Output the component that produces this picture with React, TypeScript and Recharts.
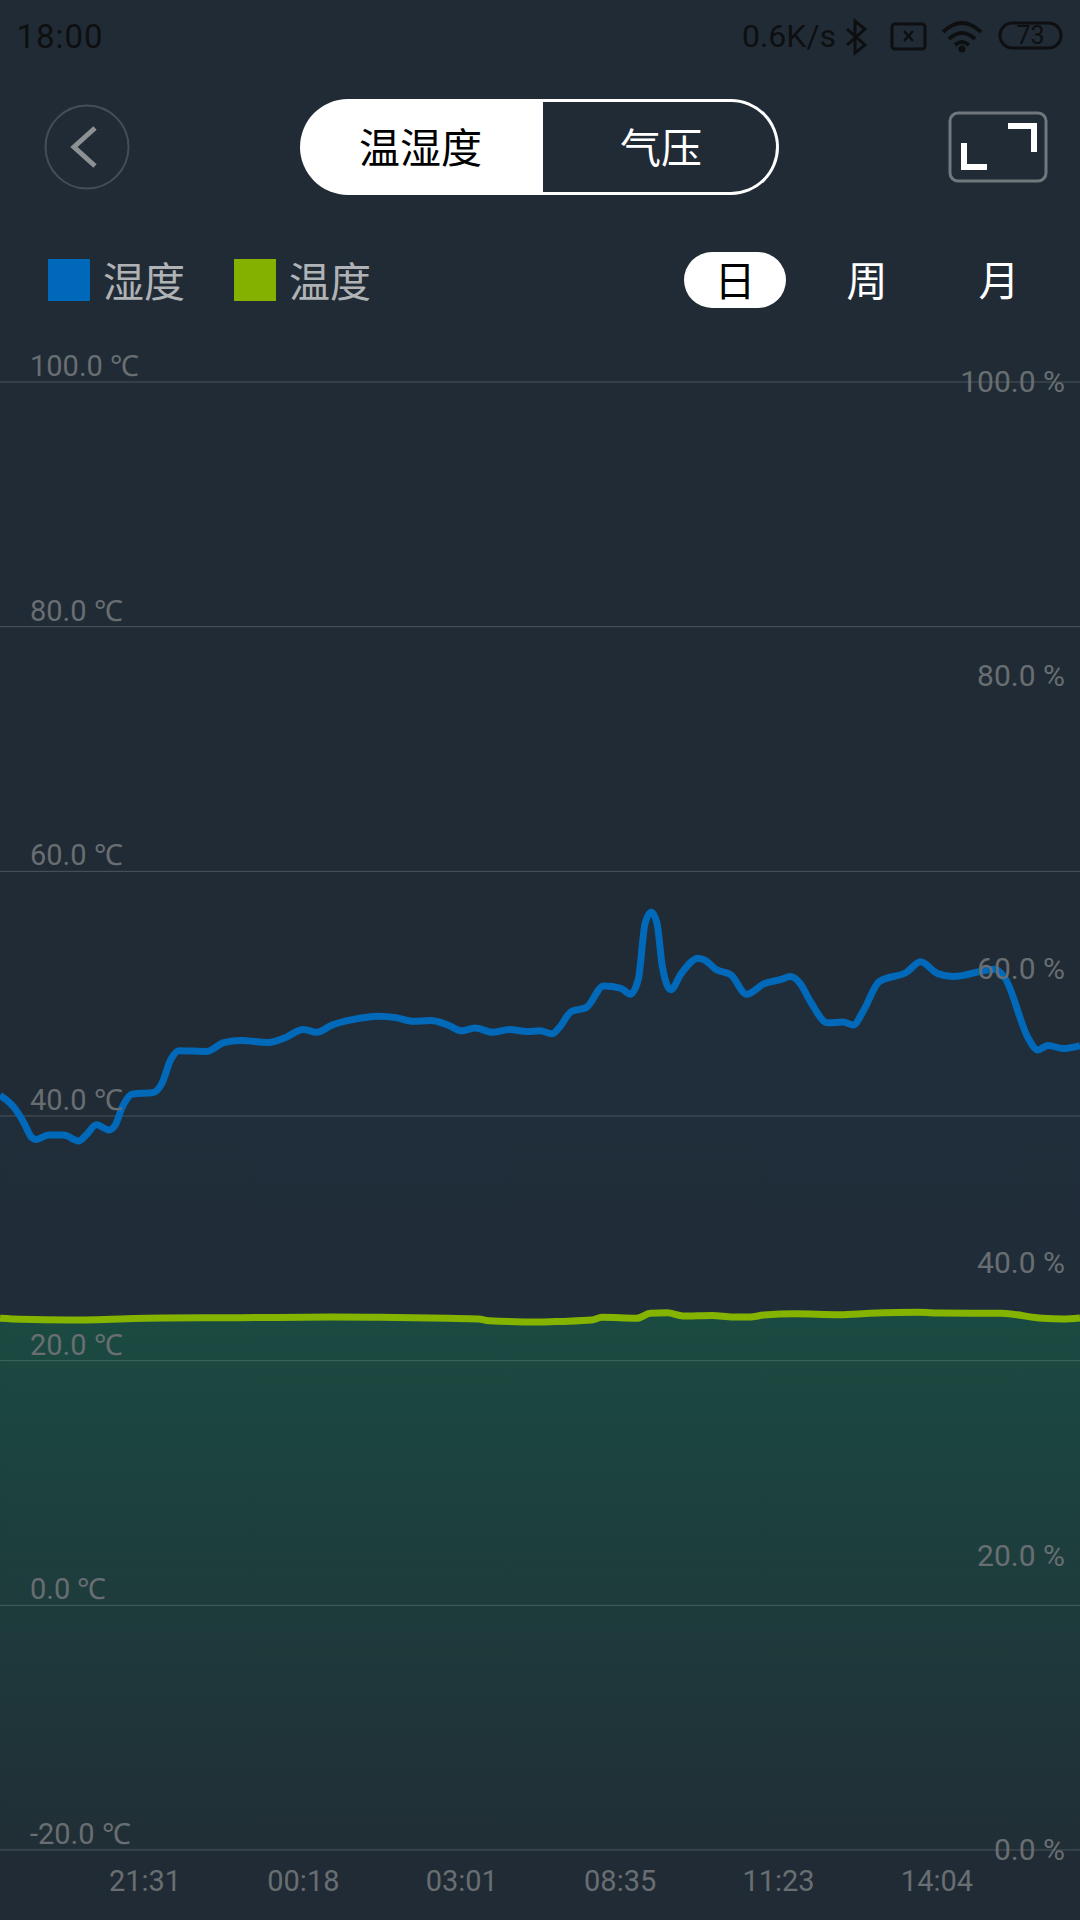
import React from "react";
import { ComposedChart, Area, XAxis, YAxis, CartesianGrid } from "recharts";

const tickSlots = [100, 200, 300, 400, 500, 600];
const timeLabels = ["21:31", "00:18", "03:01", "08:35", "11:23", "14:04"];
const tempTicks = [-20, 0, 20, 40, 60, 80, 100];
const humidityTicks = [0, 20, 40, 60, 80, 100];

const humiditySlots = [8.5,17.2,23.7,28,31.3,38.9,48.7,58,62.8,69.3,77.2,81.3,85.6,92.2,105.2,110.6,116.1,121.5,138.9,149.8,160.6,178,188.9,199.8,208.5,218.2,230.2,247.6,258.5,269.3,280.2,291.1,299.8,308.5,319.3,330.2,341.1,349.4,357,361.4,369,378.7,389.6,400.5,406.4,411.4,415.7,419.6,423.3,426.6,432,438.5,449.4,453.7,460.3,470.1,479.8,490.7,501.6,507.4,513.5,520.1,530.9,540.7,547.2,553.7,563.5,580.9,589.6,600.5,610.3,636.4,642.9,658.1,663.5,670,679.8,690.3];
const humidity = [51.4,50.6,49.5,48.6,48.4,48.7,48.7,48.3,48.7,49.4,49.05,49.4,50.6,51.5,51.6,52.2,53.8,54.45,54.4,55,55.15,55,55.35,55.9,55.7,56.2,56.55,56.8,56.7,56.45,56.5,56.2,55.8,56,55.7,55.9,55.75,55.8,55.6,56,57.1,57.4,58.85,58.7,58.3,59.3,63.1,63.9,63.1,60.2,58.6,59.7,60.75,60.6,60,59.6,58.3,59,59.3,59.5,59.05,57.8,56.35,56.4,56.2,57.2,59.15,59.8,60.5,59.7,59.5,60,59.4,55.2,54.5,54.8,54.6,54.8];

const temperatureSlots = [8.5,21.5,52,112.8,160.6,219.3,247.6,291.1,310.6,317.1,349.4,362.4,382,388.5,410.3,419,429.8,439.6,458.1,471.1,482,490.7,510.3,538.5,558.1,588.5,601.6,640.7,666.8,679.8,690.3];
const temperature = [23.46,23.38,23.32,23.49,23.51,23.57,23.54,23.46,23.41,23.27,23.16,23.21,23.32,23.54,23.46,23.87,23.92,23.65,23.7,23.57,23.57,23.73,23.84,23.76,23.87,23.95,23.89,23.87,23.46,23.41,23.49];

const humidityRows = humiditySlots.map((slot, i) => ({ slot, humidity: humidity[i] }));
const temperatureRows = temperatureSlots.map((slot, i) => ({ slot, temperature: temperature[i] }));

const BG = "#212b35";
const CJK = '"Noto Sans CJK SC", sans-serif';
const LATIN = 'Roboto, sans-serif';
const AXIS_COLOR = "#686e72";

const abs = (left: number, top: number, width: number, height: number, extra: React.CSSProperties = {}): React.CSSProperties => ({
  position: "absolute", left, top, width, height, display: "flex", alignItems: "center", justifyContent: "center", ...extra,
});

const LeftTick = (p: any) => (
  <text x={30} y={p.y - 6} fontFamily={LATIN} fontSize={29} fill={AXIS_COLOR}>{`${p.payload.value.toFixed(1)} ℃`}</text>
);
const RightTick = (p: any) => (
  <text x={1065} y={p.y + 10} textAnchor="end" fontFamily={LATIN} fontSize={30} fill={AXIS_COLOR}>{`${p.payload.value.toFixed(1)} %`}</text>
);
const TimeTick = (p: any) => (
  <text x={p.x} y={1891} textAnchor="middle" fontFamily={LATIN} fontSize={29} fill={AXIS_COLOR}>{timeLabels[tickSlots.indexOf(p.payload.value)]}</text>
);

const Icons = () => (
  <svg width={1080} height={200} style={{ position: "absolute", left: 0, top: 0 }}>
    {/* back */}
    <circle cx={87} cy={147} r={41.5} fill="none" stroke="#454e56" strokeWidth={2} />
    <path d="M95 128 L74 147 L95 166" fill="none" stroke="#8d9194" strokeWidth={5} />
    {/* expand */}
    <rect x={950} y={113} width={96} height={68} rx={8} fill="none" stroke="#70777d" strokeWidth={3} />
    <path d="M1008 126 H1034 V152" fill="none" stroke="#fff" strokeWidth={6} />
    <path d="M964 143 V167 H987" fill="none" stroke="#fff" strokeWidth={6} />
    {/* bluetooth */}
    <path d="M847 29 L865 45 L855 53 V21 L865 29 L847 45" fill="none" stroke="#0d0f11" strokeWidth={3} />
    {/* sim */}
    <rect x={892} y={24} width={33} height={25} rx={3} fill="none" stroke="#0d0f11" strokeWidth={3} />
    <path d="M904 31 L913 41 M913 31 L904 41" stroke="#0d0f11" strokeWidth={2.5} />
    {/* wifi */}
    <path d="M943 32 Q962 14 981 32 M949 39 Q962 27 975 39 M955 45 Q962 39 969 45" fill="none" stroke="#0d0f11" strokeWidth={4} />
    <circle cx={962} cy={49} r={3.5} fill="#0d0f11" />
    {/* battery */}
    <rect x={1000} y={23} width={61} height={25} rx={12.5} fill="none" stroke="#0d0f11" strokeWidth={3} />
  </svg>
);

export default function App() {
  return (
    <div style={{ position: "absolute", left: 0, top: 0, width: 1080, height: 1920, background: BG, overflow: "hidden" }}>
      <div style={{ position: "absolute", left: 0, top: 0 }}>
        <ComposedChart width={1080} height={1920} margin={{ top: 382, right: 0, bottom: 0, left: 0 }}>
          <defs>
            <linearGradient id="humidityFill" x1="0" y1="0" x2="0" y2="1">
              <stop offset="0%" stopColor="#0068b8" stopOpacity={0.08} />
              <stop offset="100%" stopColor="#0068b8" stopOpacity={0} />
            </linearGradient>
            <linearGradient id="temperatureFill" x1="0" y1="0" x2="0" y2="1">
              <stop offset="0%" stopColor="#06b060" stopOpacity={0.38} />
              <stop offset="100%" stopColor="#06b060" stopOpacity={0.04} />
            </linearGradient>
          </defs>
          <CartesianGrid vertical={false} yAxisId="temp" stroke="#ffffff" strokeOpacity={0.2} strokeWidth={1} />
          <XAxis type="number" dataKey="slot" domain={[8.46, 690.3]} ticks={tickSlots} interval={0} height={70} axisLine={false} tickLine={false} tick={TimeTick} allowDataOverflow />
          <YAxis yAxisId="temp" orientation="left" mirror domain={[-20, 100]} ticks={tempTicks} interval={0} axisLine={false} tickLine={false} tick={LeftTick} />
          <YAxis yAxisId="hum" orientation="right" mirror domain={[0, 100]} ticks={humidityTicks} interval={0} axisLine={false} tickLine={false} tick={RightTick} />
          <Area yAxisId="hum" data={humidityRows} dataKey="humidity" type="monotone" stroke="#0069b9" strokeWidth={7} fill="url(#humidityFill)" dot={false} activeDot={false} isAnimationActive={false} />
          <Area yAxisId="temp" data={temperatureRows} dataKey="temperature" baseValue={-20} type="monotone" stroke="#84b400" strokeWidth={7} fill="url(#temperatureFill)" dot={false} activeDot={false} isAnimationActive={false} />
        </ComposedChart>
      </div>

      <Icons />

      <div style={abs(10, 18, 100, 36, { fontFamily: LATIN, fontSize: 33, letterSpacing: 1, color: "#0d0f11" })}>18:00</div>
      <div style={abs(736, 18, 106, 36, { fontFamily: LATIN, fontSize: 32, color: "#0d0f11" })}>0.6K/s</div>
      <div style={abs(1000, 19, 61, 32, { fontFamily: LATIN, fontSize: 25, color: "#0d0f11" })}>73</div>

      <div style={{ position: "absolute", left: 300, top: 99, width: 243, height: 96, borderRadius: "48px 0 0 48px", background: "#fff" }} />
      <div style={{ position: "absolute", left: 543, top: 99, width: 236, height: 96, borderRadius: "0 48px 48px 0", border: "3px solid #fff", borderLeft: "none", boxSizing: "border-box" }} />
      <div style={abs(299, 97, 243, 96, { fontFamily: CJK, fontSize: 41, color: "#000" })}>温湿度</div>
      <div style={abs(543, 97, 236, 96, { fontFamily: CJK, fontSize: 41, color: "#fff" })}>气压</div>

      <div style={{ position: "absolute", left: 48, top: 259, width: 42, height: 42, background: "#0068b8" }} />
      <div style={abs(100, 253, 88, 52, { fontFamily: CJK, fontSize: 41, color: "#b0b3b6" })}>湿度</div>
      <div style={{ position: "absolute", left: 234, top: 259, width: 42, height: 42, background: "#84b000" }} />
      <div style={abs(286, 253, 88, 52, { fontFamily: CJK, fontSize: 41, color: "#b0b3b6" })}>温度</div>

      <div style={{ position: "absolute", left: 684, top: 252, width: 102, height: 56, borderRadius: 28, background: "#fff" }} />
      <div style={abs(684, 250, 102, 56, { fontFamily: CJK, fontSize: 41, color: "#000" })}>日</div>
      <div style={abs(817, 250, 100, 56, { fontFamily: CJK, fontSize: 41, color: "#fff" })}>周</div>
      <div style={abs(949, 250, 100, 56, { fontFamily: CJK, fontSize: 41, color: "#fff" })}>月</div>
    </div>
  );
}
